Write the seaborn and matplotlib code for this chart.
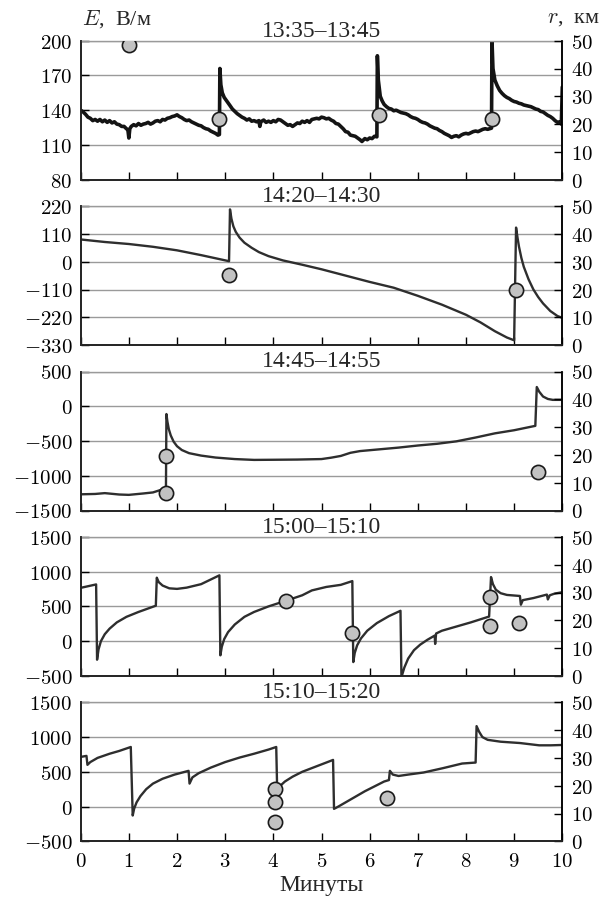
import matplotlib
matplotlib.use("Agg")
import matplotlib.pyplot as plt
import seaborn as sns
import pandas as pd
from matplotlib.ticker import FuncFormatter

# --- данные ---
titles = ["13:35–13:45", "14:20–14:30", "14:45–14:55", "15:00–15:10", "15:10–15:20"]

t1 = [0.0, 0.05, 0.1, 0.15, 0.2, 0.25, 0.3, 0.35, 0.4, 0.45, 0.5, 0.55, 0.6, 0.65, 0.7, 0.75,
      0.8, 0.85, 0.9, 0.95, 0.98, 1.0, 1.02, 1.05, 1.1, 1.15, 1.2, 1.25, 1.3, 1.35, 1.4, 1.45,
      1.5, 1.55, 1.6, 1.65, 1.7, 1.75, 1.8, 1.85, 1.9, 1.95, 2.0, 2.05, 2.1, 2.15, 2.2, 2.25,
      2.3, 2.35, 2.4, 2.45, 2.5, 2.55, 2.6, 2.65, 2.7, 2.75, 2.8, 2.85, 2.88,
      2.89, 2.91, 2.94, 2.98, 3.05, 3.1, 3.15, 3.2, 3.25, 3.3, 3.35, 3.4, 3.45, 3.5, 3.55,
      3.6, 3.65, 3.7, 3.72, 3.74, 3.8, 3.85, 3.9, 3.95, 4.0, 4.05, 4.1, 4.15, 4.2, 4.25,
      4.3, 4.35, 4.4, 4.45, 4.5, 4.55, 4.6, 4.65, 4.7, 4.75, 4.8, 4.85, 4.9, 4.95, 5.0,
      5.05, 5.1, 5.15, 5.2, 5.25, 5.3, 5.35, 5.4, 5.45, 5.5, 5.55, 5.6, 5.65, 5.7, 5.75,
      5.8, 5.84, 5.9, 5.95, 6.0, 6.05, 6.1, 6.15, 6.16, 6.18, 6.22, 6.26, 6.3, 6.35, 6.4,
      6.45, 6.5, 6.55, 6.6, 6.65, 6.7, 6.75, 6.8, 6.85, 6.9, 6.95, 7.0, 7.05, 7.1, 7.15,
      7.2, 7.25, 7.3, 7.35, 7.4, 7.45, 7.5, 7.55, 7.6, 7.65, 7.7, 7.75, 7.8, 7.85, 7.9,
      7.95, 8.0, 8.05, 8.1, 8.15, 8.2, 8.25, 8.3, 8.35, 8.4, 8.45, 8.53, 8.54, 8.56, 8.6,
      8.65, 8.7, 8.75, 8.8, 8.85, 8.9, 8.95, 9.0, 9.05, 9.1, 9.15, 9.2, 9.25, 9.3, 9.35,
      9.4, 9.45, 9.5, 9.55, 9.6, 9.65, 9.7, 9.75, 9.8, 9.85, 9.9, 9.95, 9.98, 10.0]
e1 = [140, 138.5, 136.5, 134, 133, 131, 132, 130.5, 132, 130, 131.5, 129.5, 131, 129, 130, 128,
      127.5, 126, 126, 124, 123, 116, 124, 126, 127.5, 126.5, 128.5, 127, 128, 128.5, 129.5, 128,
      129, 130.5, 131, 130, 132, 131.5, 133, 133.5, 134.5, 135, 136, 134.5, 133.5, 132, 131, 131.5,
      130, 129, 128, 127, 126.5, 125, 124, 123.5, 122, 121, 120, 118.5, 119,
      176, 162, 155, 151, 147, 144, 141, 139, 137, 135.5, 134, 133, 131.5, 132.5, 130.5,
      131, 130, 131, 126, 130, 131.5, 129.5, 130.5, 129.5, 131, 130, 132, 131.5, 130, 128.5,
      127, 127.5, 126, 127.5, 129, 128.5, 130.5, 129.5, 131, 129.5, 132, 132.5, 133, 132.5, 134,
      133.5, 132.5, 133, 131.5, 130.5, 128.5, 128, 126, 124, 121.5, 121, 118.5, 118, 117.5, 116,
      114.5, 113, 115.5, 114.5, 116, 115.5, 117.5, 117, 187, 166, 152, 148, 145, 143, 141.5,
      141, 139.5, 140, 139, 138, 137.5, 137, 136, 134.5, 133.5, 133, 132, 130.5, 129.5, 129,
      128, 126.5, 125.5, 124.5, 124, 122.5, 121.5, 120, 119, 118, 116.5, 117.5, 118, 117, 118.5,
      119.5, 120, 119.5, 120.5, 121.5, 122, 121.5, 122.5, 123.5, 124, 123.5, 124.5, 200, 176, 166,
      161, 157, 154.5, 152.5, 151, 150, 148.5, 147.5, 147, 146, 145.5, 144.5, 144, 143.5, 143,
      142, 141, 140.5, 139, 138.5, 137, 135.5, 134.5, 133, 131, 129.5, 130, 128, 160]

t2 = [0, 0.5, 1.0, 1.5, 2.0, 2.5, 3.08, 3.1, 3.13, 3.17, 3.22, 3.3, 3.4, 3.55, 3.7, 3.9,
      4.2, 4.6, 5.0, 5.5, 6.0, 6.5, 7.0, 7.5, 8.0, 8.3, 8.6, 8.85, 9.0, 9.04, 9.07, 9.1,
      9.15, 9.2, 9.3, 9.4, 9.5, 9.6, 9.75, 9.9, 10.0]
e2 = [88, 78, 70, 59, 45, 26, 2, 207, 170, 140, 118, 95, 75, 55, 38, 22,
      5, -12, -30, -55, -80, -103, -135, -170, -210, -240, -275, -300, -311, 135, 95, 60,
      15, -20, -70, -110, -140, -165, -195, -215, -222]

t3 = [0, 0.3, 0.5, 0.8, 1.0, 1.3, 1.5, 1.68, 1.77, 1.78, 1.8, 1.83, 1.87, 1.93, 2.0, 2.1,
      2.25, 2.5, 2.8, 3.2, 3.6, 4.0, 4.5, 5.0, 5.2, 5.4, 5.6, 5.8, 6.2, 6.6, 7.0, 7.4,
      7.8, 8.2, 8.6, 9.0, 9.44, 9.47, 9.52, 9.6, 9.7, 9.8, 10.0]
e3 = [-1267, -1262, -1250, -1270, -1275, -1255, -1240, -1200, -1190, -112, -220, -330, -420, -510, -575, -630,
      -675, -710, -738, -760, -772, -770, -767, -760, -740, -715, -670, -645, -620, -595, -565, -540,
      -505, -450, -390, -345, -282, 277, 210, 140, 105, 92, 92]

t4 = [0, 0.32, 0.34, 0.37, 0.42, 0.5, 0.6, 0.75, 0.95, 1.2, 1.4, 1.56, 1.58, 1.62, 1.7, 1.84,
      2.0, 2.2, 2.5, 2.88, 2.9, 2.93, 2.98, 3.06, 3.2, 3.4, 3.6, 3.9, 4.3, 4.6, 4.8, 5.1,
      5.4, 5.64, 5.66, 5.69, 5.74, 5.82, 5.95, 6.15, 6.4, 6.64, 6.66, 6.72, 6.8, 6.92, 7.05, 7.2,
      7.35, 7.36, 7.38, 7.5, 7.8, 8.1, 8.48, 8.52, 8.56, 8.62, 8.72, 8.85, 9.12, 9.14, 9.18, 9.4,
      9.68, 9.7, 9.74, 9.84, 10.0]
e4 = [767, 816, -267, -120, 0, 100, 180, 270, 350, 420, 470, 510, 913, 850, 800, 760,
      752, 770, 820, 947, -204, -80, 30, 130, 240, 350, 420, 500, 590, 660, 730, 780,
      810, 864, -301, -170, -60, 40, 150, 260, 360, 437, -519, -380, -250, -130, -50, 20,
      80, -40, 110, 150, 210, 270, 354, 922, 820, 740, 690, 665, 650, 524, 590, 620,
      670, 600, 660, 684, 704]

t5 = [0, 0.12, 0.14, 0.2, 0.35, 0.6, 0.8, 1.04, 1.08, 1.11, 1.16, 1.24, 1.36, 1.5, 1.7, 1.95,
      2.24, 2.26, 2.32, 2.45, 2.7, 3.0, 3.3, 3.6, 3.9, 4.06, 4.08, 4.13, 4.24, 4.4, 4.6, 4.9,
      5.2, 5.24, 5.26, 5.35, 5.5, 5.7, 5.9, 6.1, 6.3, 6.4, 6.42, 6.48, 6.6, 6.8, 7.12, 7.52,
      7.92, 8.2, 8.22, 8.27, 8.34, 8.45, 8.72, 9.12, 9.52, 9.76, 10.0]
e5 = [714, 729, 600, 640, 700, 760, 800, 857, -129, -30, 60, 150, 250, 330, 400, 460,
      514, 330, 420, 480, 560, 640, 705, 760, 820, 857, 229, 290, 360, 430, 500, 580,
      660, 671, -33, 0, 60, 140, 220, 290, 360, 381, 514, 460, 440, 460, 490, 552,
      619, 633, 1157, 1080, 1000, 960, 933, 914, 881, 881, 886]

# дальность r, км (правая ось)
rt1 = [1.0, 2.88, 6.2, 8.54]
r1 = [48.5, 21.8, 23.4, 21.7]
rt2 = [3.08, 9.04]
r2 = [25.2, 19.9]
rt3 = [1.78, 1.78, 9.5]
r3 = [19.5, 6.4, 13.9]
rt4 = [4.26, 5.64, 8.5, 8.5, 9.1]
r4 = [27.0, 15.5, 28.5, 17.9, 19.1]
rt5 = [4.04, 4.04, 4.04, 6.36]
r5 = [18.8, 14.1, 7.0, 15.4]

yticks = [
    [80, 110, 140, 170, 200],
    [-330, -220, -110, 0, 110, 220],
    [-1500, -1000, -500, 0, 500],
    [-500, 0, 500, 1000, 1500],
    [-500, 0, 500, 1000, 1500],
]
rticks = [0, 10, 20, 30, 40, 50]

series = [(t1, e1), (t2, e2), (t3, e3), (t4, e4), (t5, e5)]
circles = [(rt1, r1), (rt2, r2), (rt3, r3), (rt4, r4), (rt5, r5)]

sns.set_theme(style="ticks")
plt.rcParams["font.family"] = ["Liberation Serif", "DejaVu Serif"]
plt.rcParams["mathtext.fontset"] = "cm"

W, H = 603, 904
fig = plt.figure(figsize=(W / 100, H / 100), dpi=100)

math_fmt = FuncFormatter(lambda v, p: f"${v:g}$")
grid_col = "#9a9a9a"
left_px, right_px = 80.7, 562.3
tops = [41.7, 207.1, 372.5, 537.9, 703.3]
ph = 139

for i in range(5):
    ax = fig.add_axes([left_px / W, 1 - (tops[i] + ph) / H, (right_px - left_px) / W, ph / H])
    t, e = series[i]
    df = pd.DataFrame({"t": t, "E": e})
    sns.lineplot(data=df, x="t", y="E", ax=ax, sort=False, estimator=None,
                 color="#141414" if i == 0 else "#2e2e2e", lw=2.6 if i == 0 else 1.7)
    ax.set_xlim(0, 10)
    ax.set_ylim(yticks[i][0], yticks[i][-1])
    ax.set_yticks(yticks[i])
    ax.yaxis.set_major_formatter(math_fmt)
    ax.set_xticks(range(11))
    ax.xaxis.set_major_formatter(math_fmt)
    ax.grid(axis="y", color=grid_col, lw=1.0)
    ax.set_xlabel("")
    ax.set_ylabel("")
    ax.tick_params(direction="in", length=6, width=1, labelsize=15, colors="black", pad=6)
    ax.tick_params(axis="x", pad=8)
    for s in ["left", "right", "bottom"]:
        ax.spines[s].set_color("black")
        ax.spines[s].set_linewidth(1.1)
    ax.spines["top"].set_color(grid_col)
    ax.spines["top"].set_linewidth(1.0)
    if i < 4:
        ax.tick_params(axis="x", labelbottom=False)
    ax.set_title(titles[i], fontsize=17, pad=2)

    ax2 = ax.twinx()
    rt, r = circles[i]
    sns.scatterplot(x=rt, y=r, ax=ax2, s=105, color="#c2c2c2", edgecolor="#1a1a1a",
                    linewidth=1.2, zorder=5, legend=False)
    ax2.set_ylim(0, 50)
    ax2.set_yticks(rticks)
    ax2.yaxis.set_major_formatter(math_fmt)
    ax2.tick_params(direction="in", length=6, width=1, labelsize=15, colors="black", pad=6)
    ax2.set_ylabel("")
    ax2.spines["top"].set_visible(False)
    ax2.spines["right"].set_color("black")
    ax2.spines["right"].set_linewidth(1.1)

fig.text(82 / W, 1 - 19 / H, "$E$,  В/м", fontsize=16, ha="left", va="center")
fig.text(600 / W, 1 - 19 / H, "$r$,  км", fontsize=16, ha="right", va="center")
fig.text(321 / W, 1 - 886 / H, "Минуты", fontsize=17, ha="center", va="center")

fig.savefig("out.png", dpi=100)
